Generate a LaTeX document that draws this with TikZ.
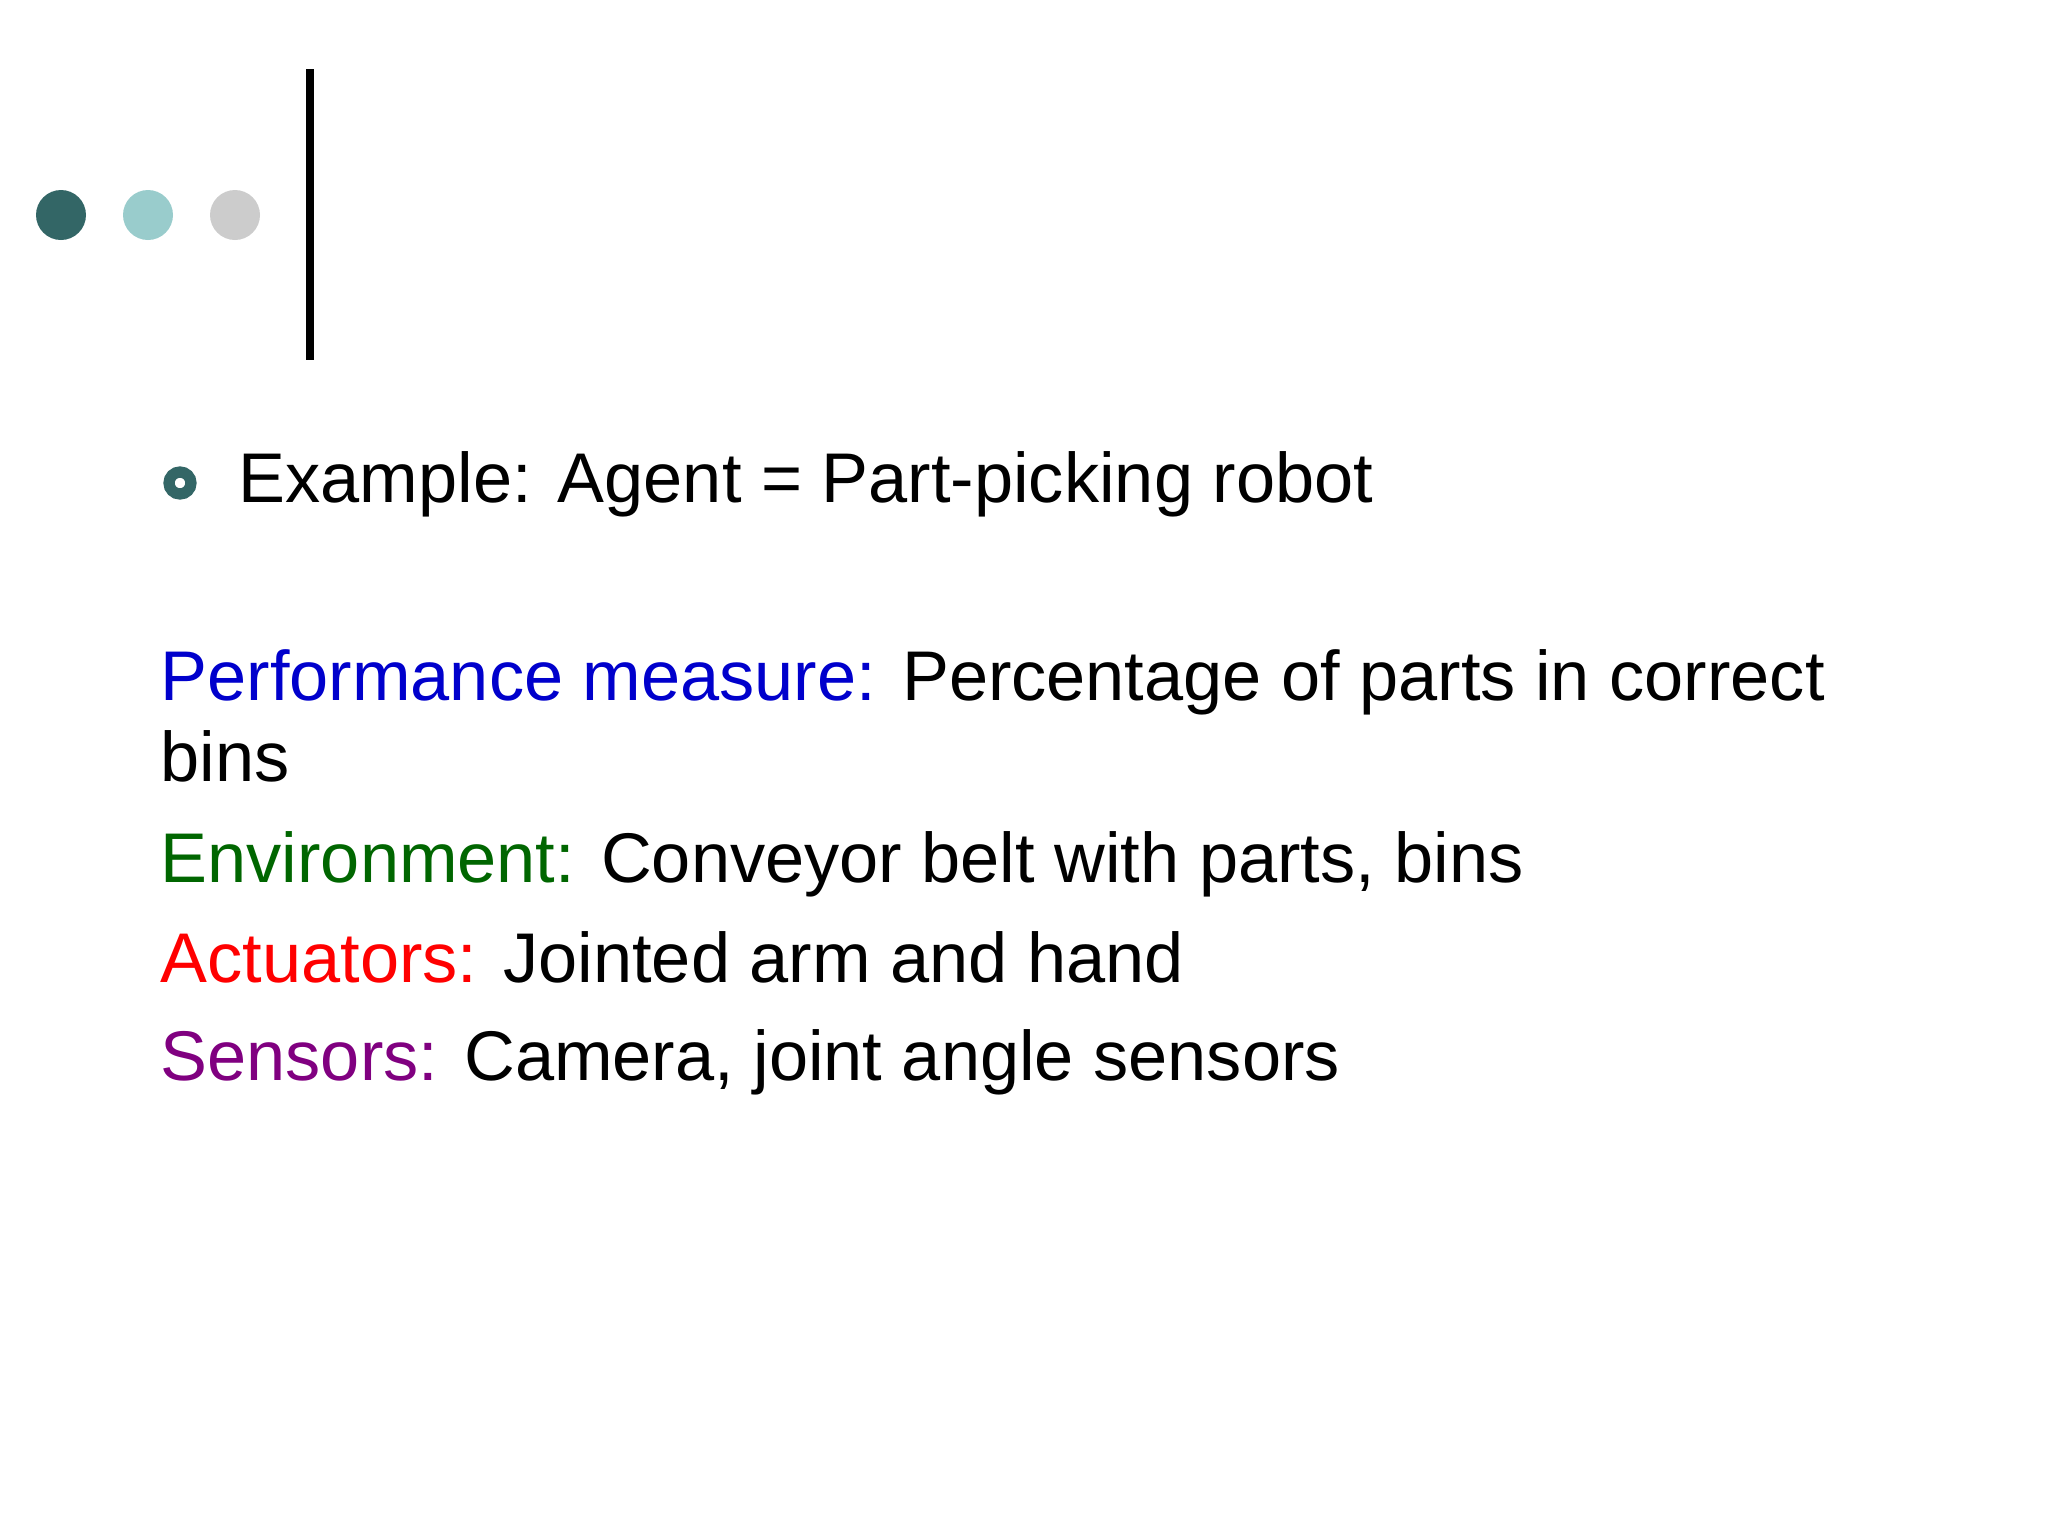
\documentclass[tikz,border=0pt]{standalone}
\usepackage{fontspec}
\setmainfont{Liberation Sans}
\definecolor{dteal}{RGB}{51,102,102}
\definecolor{lteal}{RGB}{153,204,204}
\definecolor{lgray}{RGB}{204,204,204}
\definecolor{pblue}{RGB}{0,0,204}
\definecolor{pgreen}{RGB}{0,102,0}
\definecolor{pred}{RGB}{255,0,0}
\definecolor{ppurple}{RGB}{128,0,128}
\begin{document}
\begin{tikzpicture}[x=0.01cm,y=-0.01cm,
  txt/.style={anchor=base west,inner sep=0pt,font=\fontsize{20pt}{24pt}\selectfont}]
\useasboundingbox (0,0) rectangle (2048,1536);
\fill[dteal] (61,215) circle (25);
\fill[lteal] (148,215) circle (25);
\fill[lgray] (235,215) circle (25);
\draw[line width=8\pgflinewidth, line width=2.3pt] (310,69) -- (310,360);
\draw[dteal,line width=3.2pt] (180,483) circle (11);
\node[txt] (ex) at (238,502) {Example: Agent = Part-picking robot};
\node[txt] (pm) at (160,700) {\textcolor{pblue}{Performance measure:} Percentage of parts in correct};
\node[txt] (pm2) at (160,781) {bins};
\node[txt] (en) at (160,882) {\textcolor{pgreen}{Environment:} Conveyor belt with parts, bins};
\node[txt] (ac) at (160,982) {\textcolor{pred}{Actuators:} Jointed arm and hand};
\node[txt] (se) at (160,1080) {\textcolor{ppurple}{Sensors:} Camera, joint angle sensors};
\end{tikzpicture}
\end{document}
